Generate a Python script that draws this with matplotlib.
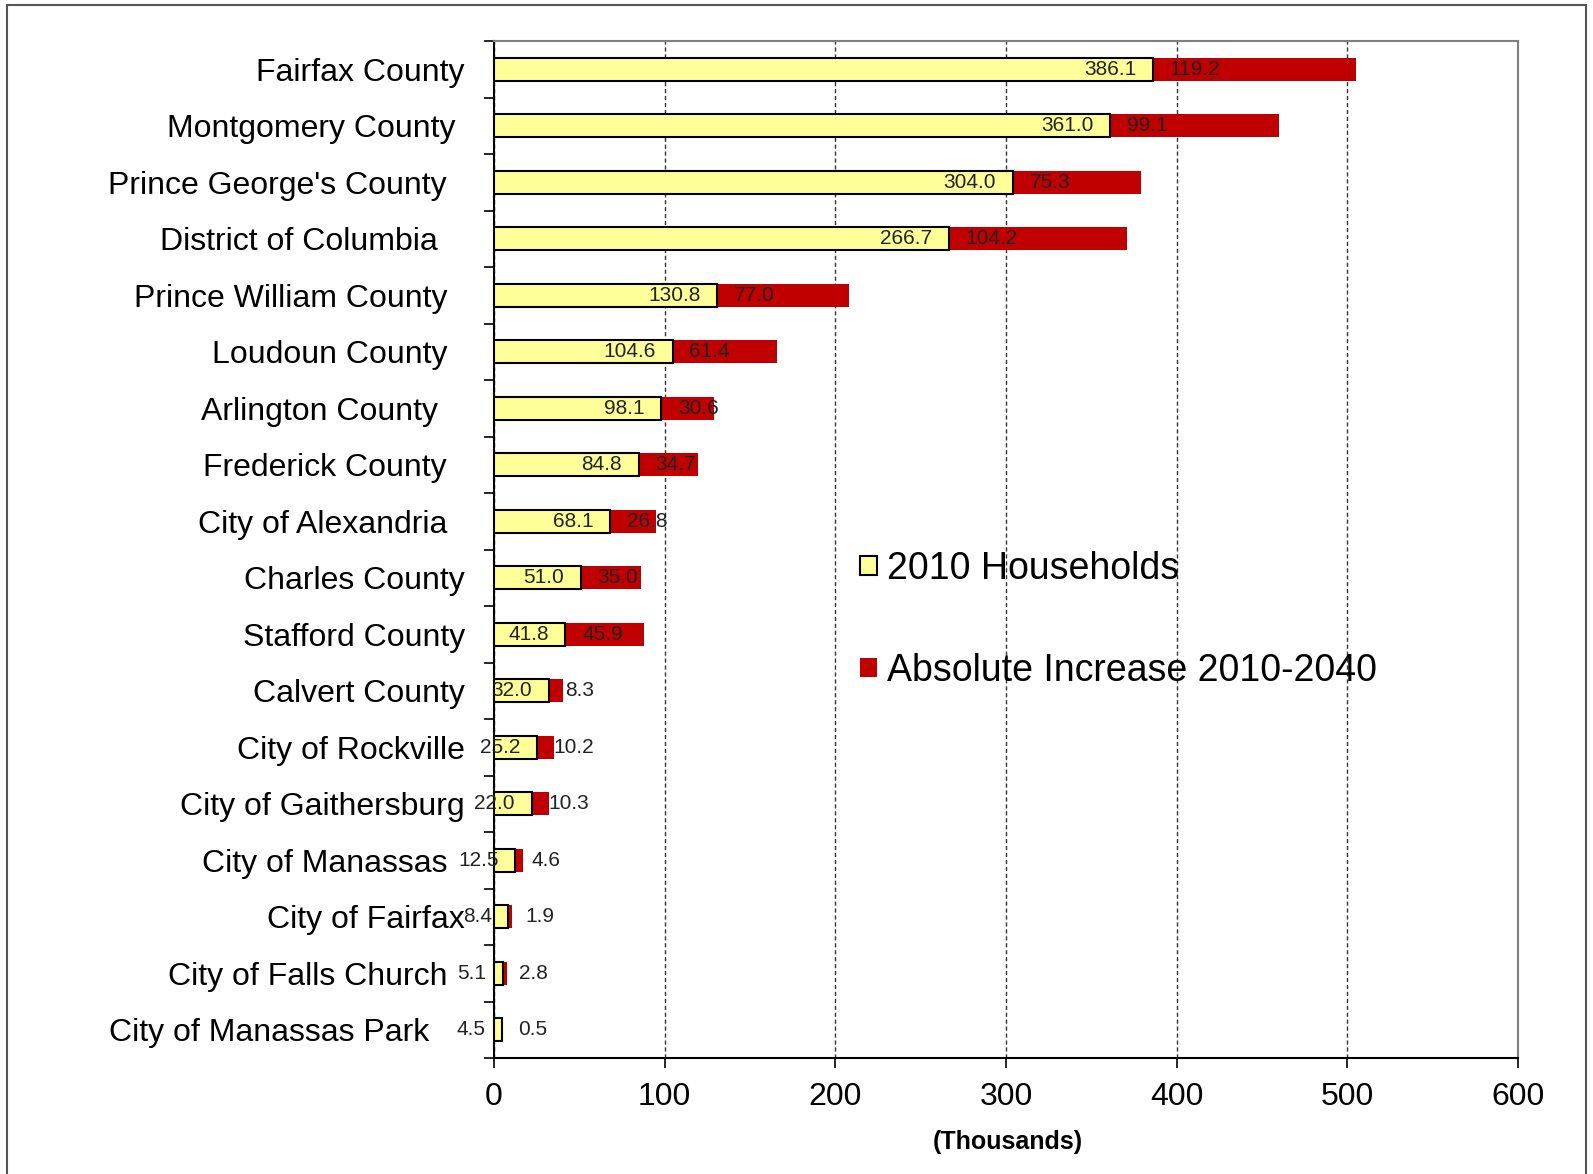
import matplotlib
matplotlib.use("Agg")
import matplotlib.pyplot as plt
from matplotlib.patches import Rectangle
import numpy as np

plt.rcParams['font.family'] = ['Liberation Sans', 'DejaVu Sans']

categories = ["Fairfax County", "Montgomery County ", "Prince George's County  ",
              "District of Columbia   ", "Prince William County  ", "Loudoun County  ",
              "Arlington County   ", "Frederick County  ", "City of Alexandria  ",
              "Charles County", "Stafford County", "Calvert County",
              "City of Rockville", "City of Gaithersburg", "City of Manassas  ",
              "City of Fairfax", "City of Falls Church  ", "City of Manassas Park    "]
households_2010 = [386.1, 361.0, 304.0, 266.7, 130.8, 104.6, 98.1, 84.8, 68.1,
                   51.0, 41.8, 32.0, 25.2, 22.0, 12.5, 8.4, 5.1, 4.5]
increase_2010_2040 = [119.2, 99.1, 75.3, 104.2, 77.0, 61.4, 30.6, 34.7, 26.8,
                      35.0, 45.9, 8.3, 10.2, 10.3, 4.6, 1.9, 2.8, 0.5]
x_ticks = [0, 100, 200, 300, 400, 500, 600]

W, H = 1593, 1174
fig = plt.figure(figsize=(W / 100, H / 100), dpi=100)
ax = fig.add_axes([494 / W, 1 - 1058 / H, (1518 - 494) / W, (1058 - 41) / H])

y = np.arange(len(categories))
bh = 0.41
ax.barh(y, households_2010, height=bh, color='#FFFF99', edgecolor='black',
        linewidth=1.5, label='2010 Households', zorder=3)
ax.barh(y, increase_2010_2040, left=households_2010, height=bh, color='#C00000',
        edgecolor='none', label='Absolute Increase 2010-2040', zorder=2)

for yi, h, inc in zip(y, households_2010, increase_2010_2040):
    ax.annotate(f"{h:.1f}", (h, yi), xytext=(-12, 0), textcoords='offset points',
                ha='right', va='center', fontsize=15, color='#222222', zorder=4)
    ax.annotate(f"{inc:.1f}", (h, yi), xytext=(12, 0), textcoords='offset points',
                ha='left', va='center', fontsize=15, color='#222222', zorder=4)

ax.set_xlim(0, 600)
ax.set_ylim(len(categories) - 0.5, -0.5)
ax.set_xticks(x_ticks)
ax.set_xticklabels([str(t) for t in x_ticks], fontsize=23)
ax.set_yticks(y)
ax.set_yticklabels(categories, fontsize=23)
ax.set_yticks(np.arange(len(categories) + 1) - 0.5, minor=True)
ax.tick_params(axis='y', which='major', length=0, pad=21)
ax.tick_params(axis='y', which='minor', length=7, width=1.2, direction='out')
ax.tick_params(axis='x', which='major', length=7, width=1.2, direction='out', pad=10)

ax.grid(axis='x', linestyle=(0, (3, 2)), color='#333333', linewidth=1.0, zorder=0)
ax.set_axisbelow(True)
for s in ['top', 'right']:
    ax.spines[s].set_color('#808080')
    ax.spines[s].set_linewidth(1.5)
for s in ['left', 'bottom']:
    ax.spines[s].set_color('black')
    ax.spines[s].set_linewidth(1.5)

fig.text(1008 / W, 1 - 1142 / H, "(Thousands)", ha='center', va='center',
         fontsize=18, fontweight='bold')

fig.legend(loc='upper left', bbox_to_anchor=(841 / W, 1 - 532 / H), frameon=False,
           fontsize=27, borderpad=0, labelspacing=1.76, handlelength=0.45,
           handleheight=0.42, handletextpad=0.28)

fig.patches.append(Rectangle((7 / W, -0.01), (1586 - 7) / W, 1.0 - 5 / H + 0.01,
                             transform=fig.transFigure, fill=False,
                             edgecolor='#555555', linewidth=1.5))

fig.savefig("out.png", dpi=100)
